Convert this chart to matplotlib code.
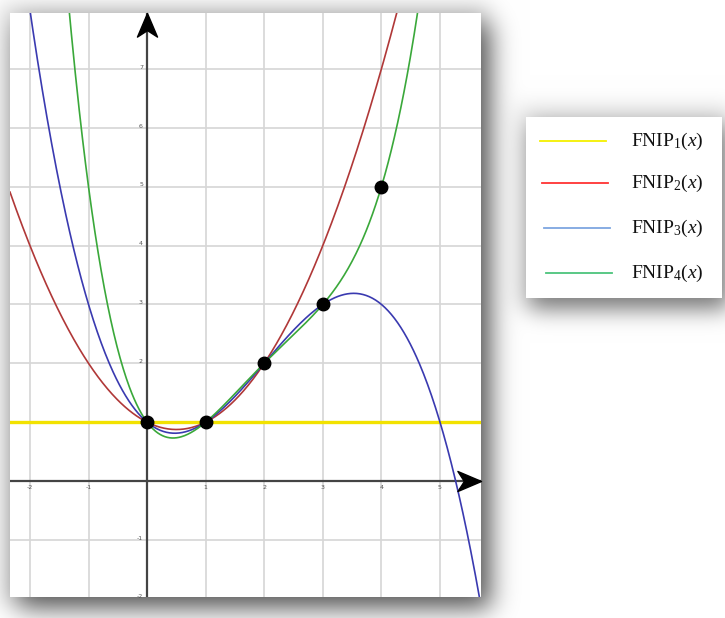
import numpy as np
import matplotlib
matplotlib.use("Agg")
import matplotlib.pyplot as plt
from matplotlib.path import Path

# ---- data ----
x_nodes = [0, 1, 2, 3, 4]
y_nodes = [1, 1, 2, 3, 5]
series_names = [r"FNIP$_1$($x$)", r"FNIP$_2$($x$)", r"FNIP$_3$($x$)", r"FNIP$_4$($x$)"]
curve_colors = ["#f2e200", "#b03838", "#3a3ab0", "#3aa83a"]
legend_colors = ["#f4f000", "#ff3333", "#7ea6e0", "#4cc47c"]
x_tick_vals = [-2, -1, 1, 2, 3, 4, 5]
y_tick_vals = [-2, -1, 1, 2, 3, 4, 5, 6, 7]

W, H = 725, 618
fig = plt.figure(figsize=(W / 100, H / 100), dpi=100)
fig.patch.set_facecolor("white")

# ---- background shadows (decoration) ----
def gblur(img, sigma):
    r = int(3 * sigma)
    k = np.exp(-0.5 * (np.arange(-r, r + 1) / sigma) ** 2)
    k /= k.sum()
    out = np.apply_along_axis(lambda v: np.convolve(v, k, mode="same"), 1, img)
    out = np.apply_along_axis(lambda v: np.convolve(v, k, mode="same"), 0, out)
    return out

def rect_mask(x0, y0, x1, y1, pad=80):
    m = np.zeros((H + 2 * pad, W + 2 * pad))
    m[y0 + pad:y1 + pad, x0 + pad:x1 + pad] = 1.0
    return m

pad = 80
px0, py0, px1, py1 = 10, 13, 481, 597
lx0, ly0, lx1, ly1 = 526, 117, 722, 298
dark = np.zeros((H + 2 * pad, W + 2 * pad))
dark += 0.55 * gblur(rect_mask(px0 + 8, py0 + 10, px1 + 10, py1 + 12), 13)
dark += 0.12 * gblur(rect_mask(px0 - 10, py0 - 10, px1 + 8, py1 + 8), 10)
dark += 0.42 * gblur(rect_mask(lx0 + 4, ly0 + 8, lx1 + 6, ly1 + 12), 11)
dark += 0.10 * gblur(rect_mask(lx0 - 10, ly0 - 12, lx1 + 10, ly1 + 10), 10)
dark = np.clip(dark[pad:-pad, pad:-pad], 0, 0.75)
rgb = np.dstack([1 - dark] * 3)
bg = fig.add_axes([0, 0, 1, 1], zorder=-10)
bg.imshow(rgb, extent=[0, W, H, 0], aspect="auto", interpolation="bilinear")
bg.set_xlim(0, W)
bg.set_ylim(H, 0)
bg.axis("off")

# ---- main plot ----
ax = fig.add_axes([px0 / W, 1 - py1 / H, (px1 - px0) / W, (py1 - py0) / H])
ax.set_facecolor("white")
xmin, xmax = -2.34, 5.70
ymin, ymax = -1.97, 7.95
ax.set_xlim(xmin, xmax)
ax.set_ylim(ymin, ymax)
for s in ax.spines.values():
    s.set_visible(False)
ax.set_xticks([])
ax.set_yticks([])

for gx in range(-2, 6):
    ax.axvline(gx, color="#d6d6d6", lw=1.2, zorder=1)
for gy in range(-1, 8):
    ax.axhline(gy, color="#d6d6d6", lw=1.2, zorder=1)

ax.axhline(0, color="#444444", lw=1.6, zorder=2)
ax.axvline(0, color="#444444", lw=1.6, zorder=2)

# arrowheads
arrow_verts = [(0, 0), (-2.0, 0.85), (-1.45, 0), (-2.0, -0.85), (0, 0)]
arrow_codes = [Path.MOVETO, Path.LINETO, Path.LINETO, Path.LINETO, Path.CLOSEPOLY]
arrow_r = Path(arrow_verts, arrow_codes)
arrow_u = Path([(y, x) for x, y in arrow_verts], arrow_codes)
ax.plot([xmax], [0], marker=arrow_r, ms=34, color="black", clip_on=False, zorder=6)
ax.plot([0], [ymax], marker=arrow_u, ms=34, color="black", clip_on=False, zorder=6)

# tick labels
for tv in x_tick_vals:
    ax.text(tv, -0.06, str(tv), fontsize=4.5, color="#555555", ha="center", va="top", zorder=3)
for tv in y_tick_vals:
    ax.text(-0.07, tv + 0.03, str(tv), fontsize=4.5, color="#555555", ha="right", va="center", zorder=3)

# Newton interpolation curves: FNIP_n passes through the first n+1 nodes
xs = np.linspace(xmin, xmax, 600)
for k in range(4):
    n = k + 1
    coef = np.polyfit(x_nodes[:n + 1], y_nodes[:n + 1], n)
    ys = np.polyval(coef, xs)
    lw = 2.4 if k == 0 else 1.2
    ax.plot(xs, ys, color=curve_colors[k], lw=lw, zorder=4 + 0.1 * k)

ax.plot(x_nodes, y_nodes, "o", color="black", ms=9, zorder=7)

# ---- legend box ----
lax = fig.add_axes([lx0 / W, 1 - ly1 / H, (lx1 - lx0) / W, (ly1 - ly0) / H])
lax.set_xlim(lx0, lx1)
lax.set_ylim(ly1, ly0)
lax.set_facecolor("white")
for s in lax.spines.values():
    s.set_visible(False)
lax.set_xticks([])
lax.set_yticks([])
plt.rcParams["mathtext.fontset"] = "custom"
plt.rcParams["mathtext.rm"] = "Liberation Serif"
plt.rcParams["mathtext.it"] = "Liberation Serif:italic"
row_y = [141, 183, 228, 273]
for i, name in enumerate(series_names):
    lax.plot([540 + i * 2, 606 + i * 2], [row_y[i], row_y[i]], color=legend_colors[i], lw=1.3)
    lax.text(631, row_y[i], name, fontsize=14, family="Liberation Serif",
             color="#111111", ha="left", va="center")

fig.savefig("out.png", dpi=100)
